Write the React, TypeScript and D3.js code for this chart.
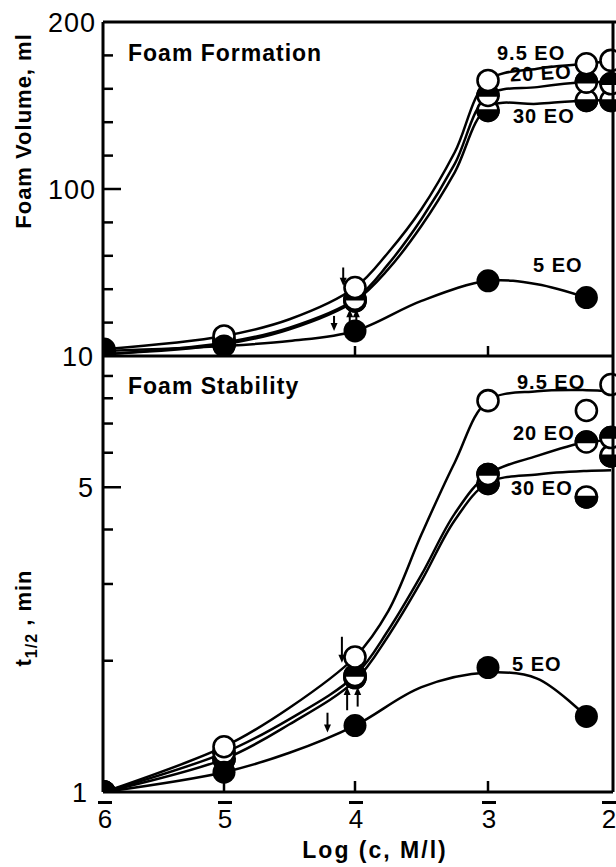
import React from "react";
import * as d3 from "d3";

// ---- data (log c, M/l) ----
const concPts = [-6, -5, -4, -3, -2.2, -2];
const concPts5 = [-6, -5, -4, -3, -2.2];
const concFit = [-6, -5, -4.5, -4, -3.75, -3.5, -3.25, -3, -2.6, -2.2, -2];
const concFit5 = [-6, -5, -4.5, -4, -3.5, -3, -2.6, -2.2];

// Foam volume, ml (markers)
const vol95 = [4, 12, 41, 165, 175, 177];
const vol20 = [2, 9, 34, 156, 164, 163];
const vol30 = [2, 7, 33, 147, 153, 153];
const vol5 = [3, 6, 15, 45, 35];
// Foam volume, fitted curves
const volFit95 = [4, 12, 22, 41, 62, 88, 122, 165, 172, 175, 177];
const volFit20 = [1, 8, 17, 34, 55, 82, 115, 156, 161, 164, 164];
const volFit30 = [1, 7, 16, 33, 52, 78, 110, 149, 151, 153, 153];
const volFit5 = [3, 6, 9, 15, 33, 45, 43, 35];

// t 1/2, min (markers)
const t95 = [1.0, 1.27, 2.04, 7.9, 7.5, 8.6];
const t20 = [1.0, 1.23, 1.85, 5.35, 6.35, 6.5];
const t30 = [1.0, 1.19, 1.83, 5.1, 4.75, 5.9];
const t5 = [1.0, 1.11, 1.42, 1.93, 1.49];
// t 1/2, fitted curves
const tFit95 = [1.0, 1.27, 1.56, 2.04, 2.6, 3.9, 5.7, 7.9, 8.3, 8.35, 8.3];
const tFit20 = [1.0, 1.23, 1.47, 1.85, 2.35, 3.15, 4.35, 5.35, 5.9, 6.35, 6.4];
const tFit30 = [1.0, 1.19, 1.43, 1.8, 2.28, 3.05, 4.2, 5.12, 5.35, 5.45, 5.47];
const tFit5 = [1.0, 1.11, 1.23, 1.42, 1.74, 1.88, 1.82, 1.49];

// axis ticks
const xTickVals = [-6, -5, -4, -3, -2];
const xTickLabels = ["6", "5", "4", "3", "2"];
const volTicks = [20, 40, 60, 80, 100, 120, 140, 160, 180];
const volLabels = [100, 200];
const tTicks = [2, 3, 4, 5, 6, 7, 8, 9];
const tLabels = [1, 5, 10];

// CMC arrows: [log c, from value, to value]
const arrowsTop = [
  [-4.09, 53, 42],
  [-4.16, 24, 15],
  [-4.04, 17, 28],
  [-3.99, 17, 28],
];
const arrowsBot = [
  [-4.1, 2.27, 1.98],
  [-4.21, 1.52, 1.37],
  [-4.06, 1.54, 1.74],
  [-3.98, 1.57, 1.74],
];

const FONT = "'Liberation Sans', Arial, sans-serif";

type Kind = "open" | "filled" | "top" | "bottom";

function Marker({ cx, cy, kind }: { cx: number; cy: number; kind: Kind }) {
  const r = 10.5;
  if (kind === "filled") return <circle cx={cx} cy={cy} r={r + 1} fill="#000" />;
  const half =
    kind === "top"
      ? `M${cx - r},${cy} A${r},${r} 0 0 1 ${cx + r},${cy} Z`
      : kind === "bottom"
      ? `M${cx - r},${cy} A${r},${r} 0 0 0 ${cx + r},${cy} Z`
      : null;
  return (
    <g>
      <circle cx={cx} cy={cy} r={r} fill="#fff" stroke="#000" strokeWidth={2.6} />
      {half && <path d={half} fill="#000" stroke="#000" strokeWidth={2.6} />}
    </g>
  );
}

function Arrow({ x, y1, y2 }: { x: number; y1: number; y2: number }) {
  const dir = y2 > y1 ? 1 : -1;
  const hl = 8;
  const hw = 3.5;
  return (
    <g>
      <line x1={x} y1={y1} x2={x} y2={y2 - dir * hl * 0.8} stroke="#000" strokeWidth={2} />
      <path d={`M${x - hw},${y2 - dir * hl} L${x + hw},${y2 - dir * hl} L${x},${y2} Z`} fill="#000" />
    </g>
  );
}

export default function App() {
  const L = 103, R = 613, T = 22, MID = 356, B = 792;
  const x = d3.scaleLinear().domain([-6, -5, -4, -3, -2]).range([104, 224, 355, 488, 611]);
  const yTop = d3.scaleLinear().domain([0, 200]).range([MID, T]);
  const yBot = d3.scaleLog().domain([1, 10]).range([B, MID]);

  const lineTop = d3
    .line<[number, number]>()
    .x((d) => x(d[0]))
    .y((d) => yTop(d[1]))
    .curve(d3.curveCatmullRom.alpha(0.5));
  const lineBot = d3
    .line<[number, number]>()
    .x((d) => x(d[0]))
    .y((d) => yBot(d[1]))
    .curve(d3.curveCatmullRom.alpha(0.5));

  const zip = (xs: number[], ys: number[]) => xs.map((v, i) => [v, ys[i]] as [number, number]);

  const topCurves = [volFit95, volFit20, volFit30].map((v) => lineTop(zip(concFit, v)));
  topCurves.push(lineTop(zip(concFit5, volFit5)));
  const botCurves = [tFit95, tFit20, tFit30].map((v) => lineBot(zip(concFit, v)));
  botCurves.push(lineBot(zip(concFit5, tFit5)));

  const topSeries: { c: number[]; v: number[]; k: Kind }[] = [
    { c: concPts, v: vol30, k: "bottom" },
    { c: concPts, v: vol20, k: "top" },
    { c: concPts, v: vol95, k: "open" },
    { c: concPts5, v: vol5, k: "filled" },
  ];
  const botSeries: { c: number[]; v: number[]; k: Kind }[] = [
    { c: concPts, v: t30, k: "bottom" },
    { c: concPts, v: t20, k: "top" },
    { c: concPts, v: t95, k: "open" },
    { c: concPts5, v: t5, k: "filled" },
  ];

  const labelStyle = { fontFamily: FONT, fontWeight: 700, fontSize: 20, letterSpacing: 1 } as const;

  return (
    <svg
      width={616}
      height={867}
      style={{ position: "absolute", left: 0, top: 0, display: "block", background: "#fff" }}
    >
      <defs>
        <clipPath id="clipTop">
          <rect x={L} y={T} width={R - L + 6} height={MID - T} />
        </clipPath>
        <clipPath id="clipBot">
          <rect x={L} y={MID} width={R - L + 6} height={B - MID} />
        </clipPath>
      </defs>

      {/* curves */}
      <g clipPath="url(#clipTop)" fill="none" stroke="#000" strokeWidth={2.5}>
        {topCurves.map((d, i) => (
          <path key={i} d={d || ""} />
        ))}
      </g>
      <g clipPath="url(#clipBot)" fill="none" stroke="#000" strokeWidth={2.5}>
        {botCurves.map((d, i) => (
          <path key={i} d={d || ""} />
        ))}
      </g>

      {/* markers */}
      <g clipPath="url(#clipTop)">
        {topSeries.map((s, si) =>
          s.c.map((c, i) => <Marker key={`t${si}-${i}`} cx={x(c)} cy={yTop(s.v[i])} kind={s.k} />)
        )}
      </g>
      <g clipPath="url(#clipBot)">
        {botSeries.map((s, si) =>
          s.c.map((c, i) => <Marker key={`b${si}-${i}`} cx={x(c)} cy={yBot(s.v[i])} kind={s.k} />)
        )}
      </g>

      {/* frame */}
      <g stroke="#000" strokeWidth={3} fill="none">
        <line x1={L} y1={T} x2={L} y2={B} />
        <line x1={L} y1={T} x2={616} y2={T} />
        <line x1={L} y1={MID} x2={R} y2={MID} />
        <line x1={L} y1={B} x2={R} y2={B} />
        <line x1={R} y1={T} x2={R} y2={B} />
      </g>

      {/* y ticks */}
      <g stroke="#000" strokeWidth={2.5}>
        {volTicks.map((v) => (
          <line key={v} x1={L} x2={L + (v === 100 ? 18 : 10)} y1={yTop(v)} y2={yTop(v)} />
        ))}
        {tTicks.map((v) => (
          <line key={v} x1={L} x2={L + (v === 5 ? 18 : 10)} y1={yBot(v)} y2={yBot(v)} />
        ))}
        {[-5, -4, -3].map((c) => (
          <line key={`mt${c}`} x1={x(c)} x2={x(c)} y1={MID} y2={MID - 10} />
        ))}
        {[-5, -4, -3].map((c) => (
          <line key={`bt${c}`} x1={x(c)} x2={x(c)} y1={B} y2={B - 11} />
        ))}
      </g>

      {/* y tick labels */}
      <g fontFamily={FONT} fontSize={27} textAnchor="end" fill="#000" letterSpacing={1}>
        {volLabels.map((v) => (
          <text key={v} x={96} y={yTop(v) + 10}>
            {v}
          </text>
        ))}
        {tLabels.map((v) => (
          <text key={v} x={v === 1 ? 88 : 94} y={yBot(v) + 10}>
            {v}
          </text>
        ))}
      </g>

      {/* x tick labels with overbars */}
      {xTickVals.map((c, i) => {
        const cx = i === xTickVals.length - 1 ? x(c) - 2 : x(c) + 1;
        return (
          <g key={c}>
            <text
              x={cx}
              y={828}
              fontFamily={FONT}
              fontSize={26}
              textAnchor="middle"
              fill="#000"
            >
              {xTickLabels[i]}
            </text>
            <rect x={cx - 7} y={801} width={14} height={3} fill="#000" />
          </g>
        );
      })}

      {/* arrows */}
      {arrowsTop.map((a, i) => (
        <Arrow key={`at${i}`} x={x(a[0])} y1={yTop(a[1])} y2={yTop(a[2])} />
      ))}
      {arrowsBot.map((a, i) => (
        <Arrow key={`ab${i}`} x={x(a[0])} y1={yBot(a[1])} y2={yBot(a[2])} />
      ))}

      {/* panel titles */}
      <text x={128} y={61} fontFamily={FONT} fontWeight={700} fontSize={23} letterSpacing={1}>
        Foam Formation
      </text>
      <text x={128} y={394} fontFamily={FONT} fontWeight={700} fontSize={23} letterSpacing={1}>
        Foam Stability
      </text>

      {/* curve labels */}
      <g {...labelStyle}>
        <text x={497} y={60}>9.5 EO</text>
        <text x={510} y={80} transform="rotate(-3 540 74)">20 EO</text>
        <text x={513} y={123}>30 EO</text>
        <text x={533} y={272}>5 EO</text>
        <text x={517} y={389}>9.5 EO</text>
        <text x={513} y={440}>20 EO</text>
        <text x={511} y={495}>30 EO</text>
        <text x={512} y={671}>5 EO</text>
      </g>

      {/* axis titles */}
      <text
        transform="translate(31,131) rotate(-90)"
        textAnchor="middle"
        fontFamily={FONT}
        fontWeight={700}
        fontSize={22}
        letterSpacing={1}
      >
        Foam Volume, ml
      </text>
      <text
        transform="translate(31,618) rotate(-90)"
        textAnchor="middle"
        fontFamily={FONT}
        fontWeight={700}
        fontSize={22}
        letterSpacing={1}
      >
        t
        <tspan fontSize={16} dy={6}>
          1/2
        </tspan>
        <tspan dy={-6}> , min</tspan>
      </text>
      <text
        x={375}
        y={858}
        textAnchor="middle"
        fontFamily={FONT}
        fontWeight={700}
        fontSize={23}
        letterSpacing={2}
      >
        Log (c, M/l)
      </text>
    </svg>
  );
}
